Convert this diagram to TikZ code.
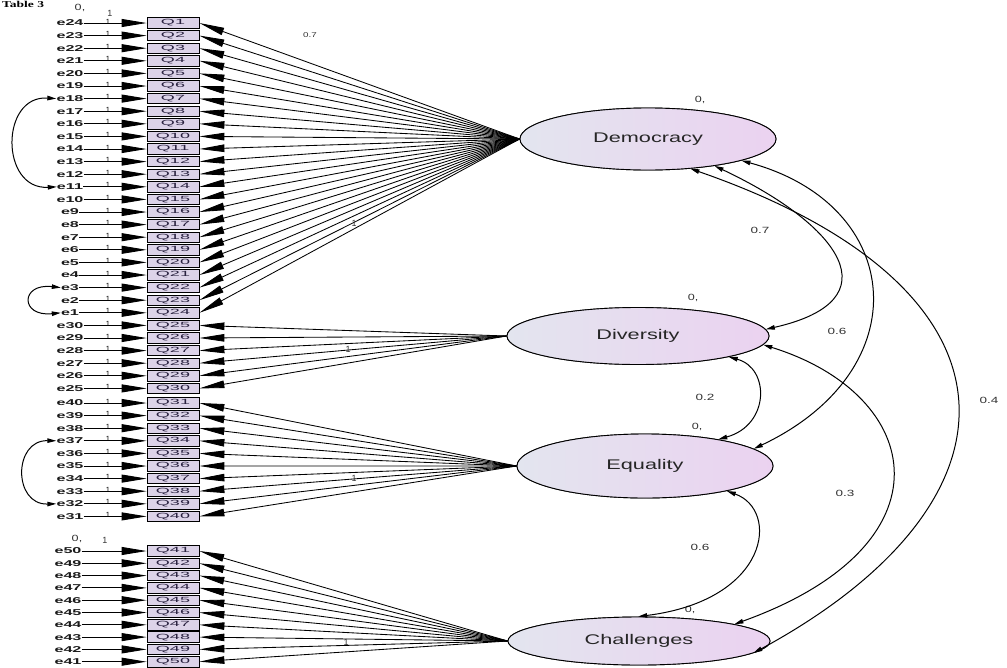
\documentclass[tikz,border=0pt]{standalone}
\usepackage{fontspec}
\setmainfont{Liberation Serif}
\newfontfamily\arialf{Liberation Sans}
\usetikzlibrary{shapes.geometric,arrows.meta}

\definecolor{latl}{HTML}{E3E5EF}
\definecolor{latr}{HTML}{EBD2F0}
\definecolor{qfill}{HTML}{DCD3E8}
\definecolor{qtext}{HTML}{2A2240}

% horizontally stretched text
\newcommand{\wide}[2]{\scalebox{#1}[1]{#2}}

\begin{document}
\begin{tikzpicture}[x=1pt,y=-1pt,
  qbox/.style={draw=black, line width=0.8pt, fill=qfill, minimum width=52pt,
    minimum height=10.5pt, inner sep=0pt, text=qtext,
    font=\arialf\fontsize{7.5}{7.5}\selectfont},
  elab/.style={inner sep=0pt, text=black!90,
    font=\arialf\bfseries\fontsize{8.5}{8.5}\selectfont},
  onelab/.style={inner sep=0pt, font=\arialf\fontsize{7.5}{7.5}\selectfont},
  lbl/.style={inner sep=0pt, text=black!80, font=\arialf\fontsize{9}{9}\selectfont},
  latent/.style={ellipse, draw=black, line width=0.9pt, left color=latl,
    right color=latr, inner sep=0pt, text=black!85,
    font=\arialf\fontsize{14}{14}\selectfont},
  errarr/.style={line width=0.9pt, -{Triangle[length=25pt,width=8pt]}},
  load/.style={line width=0.85pt, -{Triangle[length=25pt,width=7.5pt]}},
  cov/.style={line width=1pt,
    {Triangle[length=9pt,width=4.5pt]}-{Triangle[length=9pt,width=4.5pt]}}
]
\useasboundingbox (0,0) rectangle (1007,667);

% caption line
\node[anchor=north west, inner sep=0pt,
  font=\bfseries\fontsize{9}{9}\selectfont] (title) at (2,0.8) {\wide{1.5}{Table 3}};

% latent variables
\node[latent, minimum width=256pt, minimum height=62pt] (dem) at (648,139) {\wide{1.55}{Democracy}};
\node[latent, minimum width=262pt, minimum height=57pt] (div) at (638,336) {\wide{1.55}{Diversity}};
\node[latent, minimum width=256pt, minimum height=64pt] (eq) at (645,466) {\wide{1.55}{Equality}};
\node[latent, minimum width=262pt, minimum height=48pt] (chall) at (639,641) {\wide{1.55}{Challenges}};

% observed items with their error terms
\foreach \i in {1,...,24}{
  \pgfmathsetmacro\yy{23+(\i-1)*12.6}
  \pgfmathtruncatemacro\ee{25-\i}
  \node[qbox] (q\i) at (173,\yy) {\wide{2.4}{Q\i}};
  \node[elab] (e\ee) at (70,\yy) {\wide{1.9}{e\ee}};
  \draw[errarr] (e\ee) -- (q\i);
  \node[onelab] (w\i) at (108,\yy-1.5) {1};
}
\foreach \i in {25,...,30}{
  \pgfmathsetmacro\yy{325.4+(\i-25)*12.6}
  \pgfmathtruncatemacro\ee{55-\i}
  \node[qbox] (q\i) at (173,\yy) {\wide{2.4}{Q\i}};
  \node[elab] (e\ee) at (70,\yy) {\wide{1.9}{e\ee}};
  \draw[errarr] (e\ee) -- (q\i);
  \node[onelab] (w\i) at (108,\yy-1.5) {1};
}
\foreach \i in {31,...,40}{
  \pgfmathsetmacro\yy{403+(\i-31)*12.6}
  \pgfmathtruncatemacro\ee{71-\i}
  \node[qbox] (q\i) at (173,\yy) {\wide{2.4}{Q\i}};
  \node[elab] (e\ee) at (70,\yy) {\wide{1.9}{e\ee}};
  \draw[errarr] (e\ee) -- (q\i);
  \node[onelab] (w\i) at (108,\yy-1.5) {1};
}
\foreach \i in {41,...,50}{
  \pgfmathsetmacro\yy{551+(\i-41)*12.3}
  \pgfmathtruncatemacro\ee{91-\i}
  \node[qbox] (q\i) at (173,\yy) {\wide{2.4}{Q\i}};
  \node[elab] (e\ee) at (68,\yy) {\wide{1.9}{e\ee}};
  \draw[errarr] (e\ee) -- (q\i);
}

% group headers (variance / weight)
\node[lbl] (h1a) at (80,8) {\wide{1.4}{0,}};
\node[lbl] (h1b) at (110,13) {1};
\node[lbl] (h4a) at (77,539) {\wide{1.4}{0,}};
\node[lbl] (h4b) at (105,540) {1};

% factor loadings
\foreach \i in {1,...,24} \draw[load] (dem.west) -- (q\i.east);
\foreach \i in {25,...,30} \draw[load] (div.west) -- (q\i.east);
\foreach \i in {31,...,40} \draw[load] (eq.west) -- (q\i.east);
\foreach \i in {41,...,50} \draw[load] (chall.west) -- (q\i.east);

% redraw the latent ellipses over the converging lines
\node[latent, minimum width=256pt, minimum height=62pt] at (dem) {\wide{1.55}{Democracy}};
\node[latent, minimum width=262pt, minimum height=57pt] at (div) {\wide{1.55}{Diversity}};
\node[latent, minimum width=256pt, minimum height=64pt] at (eq) {\wide{1.55}{Equality}};
\node[latent, minimum width=262pt, minimum height=48pt] at (chall) {\wide{1.55}{Challenges}};

% loading labels
\node[lbl, font=\arialf\fontsize{7}{7}\selectfont] (l1) at (310,35) {\wide{1.4}{0.7}};
\node[lbl] (l2) at (354,223) {1};
\node[lbl] (l3) at (348,349) {1};
\node[lbl] (l4) at (354,478) {1};
\node[lbl] (l5) at (346,642) {1};

% latent variances
\node[lbl] (v1) at (700,100) {\wide{1.4}{0,}};
\node[lbl] (v2) at (693,298) {\wide{1.4}{0,}};
\node[lbl] (v3) at (697,427) {\wide{1.4}{0,}};
\node[lbl] (v4) at (690,610) {\wide{1.4}{0,}};

% covariances between factors
\draw[cov] (dem.-35) .. controls (1040,290) and (1030,503) .. (chall.-6);
\draw[cov] (dem.-22) .. controls (840,225) and (895,300) .. (div.3);
\draw[cov] (dem.-13) .. controls (905,205) and (920,370) .. (eq.9);
\draw[cov] (div.-4) .. controls (925,395) and (955,545) .. (chall.10);
\draw[cov] (div.-13) .. controls (770,368) and (770,425) .. (eq.20);
\draw[cov] (eq.-17) .. controls (780,510) and (770,600) .. (chall.92);

\node[lbl] (c1) at (760,230) {\wide{1.5}{0.7}};
\node[lbl] (c2) at (837,331) {\wide{1.5}{0.6}};
\node[lbl] (c3) at (989,400) {\wide{1.5}{0.4}};
\node[lbl] (c4) at (845,493) {\wide{1.5}{0.3}};
\node[lbl] (c5) at (705,397) {\wide{1.5}{0.2}};
\node[lbl] (c6) at (700,547) {\wide{1.5}{0.6}};

% covariances between error terms
\draw[cov] (e18.west) .. controls (0,95) and (0,190) .. (e11.west);
\draw[cov] (e3.west) .. controls (20,283) and (20,317) .. (e1.west);
\draw[cov] (e37.west) .. controls (13,440) and (13,505) .. (e32.west);
\end{tikzpicture}
\end{document}
